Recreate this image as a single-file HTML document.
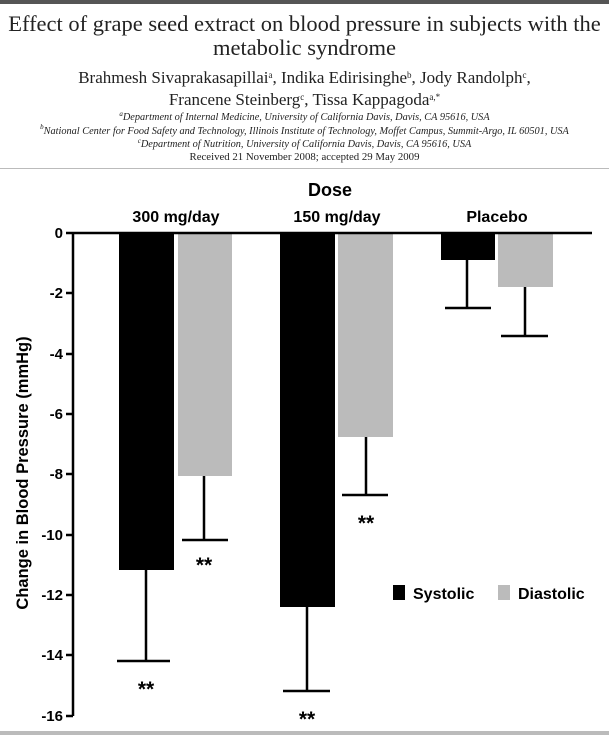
<!DOCTYPE html>
<html><head><meta charset="utf-8"><style>
body{margin:0;width:609px;height:735px;background:#fff;overflow:hidden;position:relative;font-family:"Liberation Serif",serif;}
.c{position:absolute;left:0;width:609px;text-align:center;color:#222;white-space:nowrap;}
sup{line-height:0;vertical-align:0;position:relative;top:-0.6em;}
</style></head><body>
<div style="position:absolute;left:0;top:0;width:609px;height:4px;background:#555"></div>
<div class="c" style="top:12px;font-size:22.5px;line-height:24px;">Effect of grape seed extract on blood pressure in subjects with the<br>metabolic syndrome</div>
<div class="c" style="top:67px;font-size:17px;line-height:22px;">Brahmesh Sivaprakasapillai<sup style="font-size:9px">a</sup>, Indika Edirisinghe<sup style="font-size:9px">b</sup>, Jody Randolph<sup style="font-size:9px">c</sup>,<br>Francene Steinberg<sup style="font-size:9px">c</sup>, Tissa Kappagoda<sup style="font-size:9px">a,*</sup></div>
<div class="c" style="top:111px;font-size:10.3px;line-height:13.5px;font-style:italic;"><sup style="font-size:7px">a</sup>Department of Internal Medicine, University of California Davis, Davis, CA 95616, USA<br><sup style="font-size:7px">b</sup>National Center for Food Safety and Technology, Illinois Institute of Technology, Moffet Campus, Summit-Argo, IL 60501, USA<br><sup style="font-size:7px">c</sup>Department of Nutrition, University of California Davis, Davis, CA 95616, USA</div>
<div class="c" style="top:151px;font-size:10.8px;line-height:13px;">Received 21 November 2008; accepted 29 May 2009</div>
<div style="position:absolute;left:0;top:168px;width:609px;height:1px;background:#bbb"></div>
<div style="position:absolute;left:0;top:731px;width:609px;height:4px;background:#bbb"></div>
<svg width="609" height="735" style="position:absolute;left:0;top:0" font-family="Liberation Sans, sans-serif" font-weight="bold">
<text x="330" y="196" font-size="18" text-anchor="middle">Dose</text>
<text x="176" y="222" font-size="16" text-anchor="middle">300 mg/day</text>
<text x="337" y="222" font-size="16" text-anchor="middle">150 mg/day</text>
<text x="497" y="222" font-size="16" text-anchor="middle">Placebo</text>
<g fill="#000">
<rect x="119" y="233" width="55" height="337"/>
<rect x="280" y="233" width="55" height="374"/>
<rect x="441" y="233" width="54" height="27"/>
</g>
<g fill="#bbb">
<rect x="178" y="233" width="54" height="243"/>
<rect x="338" y="233" width="55" height="204"/>
<rect x="498" y="233" width="55" height="54"/>
</g>
<g stroke="#000" stroke-width="2.5" fill="none">
<path d="M73 233H592M73 233V716M66 233H73M66 293H73M66 354H73M66 414H73M66 474H73M66 535H73M66 595H73M66 655H73M66 716H73"/>
<path d="M146 570V661M117 661H170"/>
<path d="M204 476V540M182 540H228"/>
<path d="M307 607V691M283 691H330"/>
<path d="M366 437V495M342 495H388"/>
<path d="M467 260V308M445 308H491"/>
<path d="M525 287V336M501 336H548"/>
</g>
<g font-size="15" text-anchor="end">
<text x="63" y="238">0</text><text x="63" y="298">-2</text><text x="63" y="359">-4</text><text x="63" y="419">-6</text><text x="63" y="479">-8</text><text x="63" y="540">-10</text><text x="63" y="600">-12</text><text x="63" y="660">-14</text><text x="63" y="721">-16</text>
</g>
<g font-size="21" text-anchor="middle">
<text x="146" y="696">**</text><text x="204" y="572">**</text><text x="307" y="726">**</text><text x="366" y="530">**</text>
</g>
<text transform="translate(28,473) rotate(-90)" font-size="16.5" text-anchor="middle">Change in Blood Pressure (mmHg)</text>
<rect x="393" y="585" width="12" height="15" fill="#000"/>
<text x="413" y="599" font-size="16">Systolic</text>
<rect x="498" y="585" width="12" height="15" fill="#bbb"/>
<text x="518" y="599" font-size="16">Diastolic</text>
</svg>
</body></html>
